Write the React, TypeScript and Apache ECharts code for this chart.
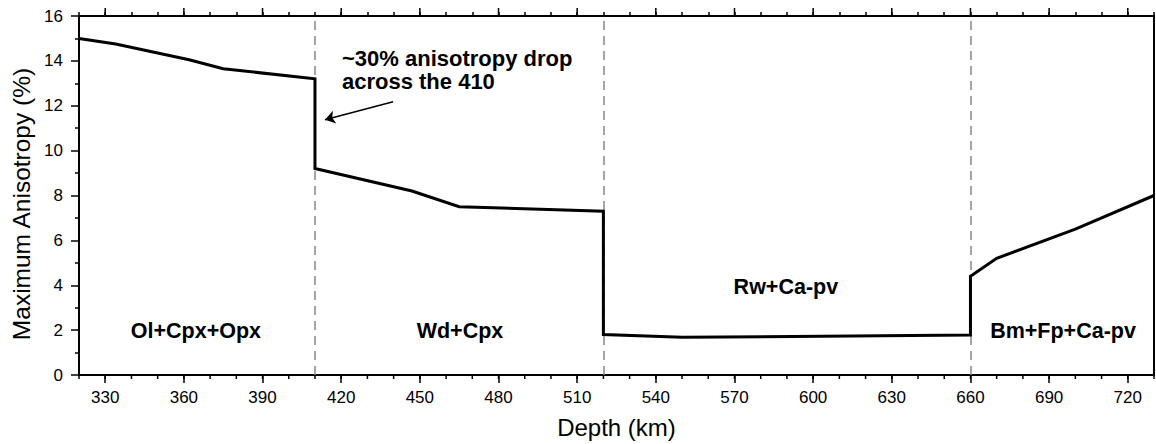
import React, { useEffect, useRef } from "react";
import * as echarts from "echarts";

const depth = [320, 334, 362, 375, 410, 410, 447, 465, 520, 520, 550, 660, 660, 670, 700, 730];
const anisotropy = [15.0, 14.75, 14.05, 13.65, 13.2, 9.2, 8.2, 7.5, 7.3, 1.8, 1.68, 1.78, 4.4, 5.2, 6.5, 8.0];

const boundaries = [410, 520, 660];

const phaseNames = ["Ol+Cpx+Opx", "Wd+Cpx", "Rw+Ca-pv", "Bm+Fp+Ca-pv"];
const phaseX = [364.6, 465.3, 589.6, 695.3];
const phaseY = [1.96, 1.96, 3.9, 1.96];

const majorXTicks = [330, 360, 390, 420, 450, 480, 510, 540, 570, 600, 630, 660, 690, 720];
const minorXTicks = [320, 330, 340, 350, 360, 370, 380, 390, 400, 410, 420, 430, 440, 450, 460, 470, 480, 490, 500, 510, 520, 530, 540, 550, 560, 570, 580, 590, 600, 610, 620, 630, 640, 650, 660, 670, 680, 690, 700, 710, 720, 730];

const annotationText = "~30% anisotropy drop\nacross the 410";
const annotationAt = [420.3, 13.6];
const arrowFrom = [439.8, 12.18];
const arrowTo = [413.8, 11.38];

const Y_MIN = 0;
const Y_MAX = 16;

const FONT = "Liberation Sans, Arial, Helvetica, sans-serif";

export default function App() {
  const ref = useRef<HTMLDivElement>(null);
  useEffect(() => {
    if (!ref.current) return;
    const chart = echarts.init(ref.current, undefined, { renderer: "svg" });
    const tickStyle = { color: "#000", width: 1.5 };
    const option: any = {
      animation: false,
      backgroundColor: "#fff",
      textStyle: { fontFamily: FONT },
      grid: { left: 79, right: 2, top: 16, bottom: 68, containLabel: false },
      xAxis: [
        {
          type: "value",
          min: 320,
          max: 730,
          interval: 10,
          position: "bottom",
          splitLine: { show: false },
          axisLine: { show: true, onZero: false, lineStyle: { color: "#000", width: 2 } },
          axisTick: { show: true, customValues: majorXTicks, length: 8, lineStyle: tickStyle },
          axisLabel: { show: true, customValues: majorXTicks, color: "#000", fontSize: 17, margin: 14, fontFamily: FONT },
          name: "Depth (km)",
          nameLocation: "middle",
          nameGap: 40,
          nameTextStyle: { color: "#000", fontSize: 24, fontFamily: FONT },
        },
        {
          type: "value",
          min: 320,
          max: 730,
          interval: 10,
          position: "top",
          splitLine: { show: false },
          axisLine: { show: true, onZero: false, lineStyle: { color: "#000", width: 2 } },
          axisTick: { show: true, length: 4, lineStyle: tickStyle },
          axisLabel: { show: false },
        },
      ],
      yAxis: [
        {
          type: "value",
          min: Y_MIN,
          max: Y_MAX,
          interval: 2,
          position: "left",
          splitLine: { show: false },
          axisLine: { show: true, onZero: false, lineStyle: { color: "#000", width: 2 } },
          axisTick: { show: true, length: 8, lineStyle: tickStyle },
          minorTick: { show: true, splitNumber: 2, length: 4, lineStyle: tickStyle },
          axisLabel: { color: "#000", fontSize: 17, margin: 16, fontFamily: FONT },
        },
        {
          type: "value",
          min: Y_MIN,
          max: Y_MAX,
          interval: 2,
          position: "right",
          splitLine: { show: false },
          axisLine: { show: true, onZero: false, lineStyle: { color: "#000", width: 2 } },
          axisTick: { show: false },
          axisLabel: { show: false },
        },
      ],
      series: [
        {
          type: "line",
          xAxisIndex: 0,
          yAxisIndex: 0,
          data: depth.map((d, i) => [d, anisotropy[i]]),
          symbol: "none",
          lineStyle: { color: "#000", width: 3, join: "miter" },
          z: 5,
          markLine: {
            silent: true,
            symbol: ["none", "none"],
            label: { show: false },
            lineStyle: { color: "#888", width: 1.5, type: [9, 6] },
            data: boundaries.map((b) => ({ xAxis: b })),
            z: 1,
          },
        },
        {
          type: "scatter",
          xAxisIndex: 0,
          yAxisIndex: 0,
          symbolSize: 0,
          silent: true,
          itemStyle: { opacity: 1 },
          data: phaseNames.map((n, i) => ({ value: [phaseX[i], phaseY[i]], name: n })),
          label: {
            show: true,
            position: "inside",
            formatter: (p: any) => p.name,
            color: "#000",
            opacity: 1,
            fontSize: 21.5,
            fontWeight: "bold",
            fontFamily: FONT,
          },
        },
        {
          type: "scatter",
          xAxisIndex: 0,
          yAxisIndex: 0,
          symbolSize: 0,
          silent: true,
          itemStyle: { opacity: 1 },
          data: [{ value: annotationAt, name: annotationText }],
          label: {
            show: true,
            position: "right",
            distance: 0,
            align: "left",
            verticalAlign: "middle",
            formatter: (p: any) => p.name,
            color: "#000",
            opacity: 1,
            fontSize: 22,
            lineHeight: 23,
            fontWeight: "bold",
            fontFamily: FONT,
          },
          markLine: {
            silent: true,
            label: { show: false },
            symbolSize: 10,
            lineStyle: { color: "#000", width: 1.5, type: "solid" },
            data: [
              [
                { coord: arrowFrom, symbol: "none" },
                { coord: arrowTo, symbol: "arrow" },
              ],
            ],
          },
        },
      ],
    };
    chart.setOption(option);

    // Longer top ticks at labelled depths and bottom minor ticks, placed through the axis scales.
    const finder = { xAxisIndex: 0, yAxisIndex: 0 };
    const tickElems: any[] = [];
    majorXTicks.forEach((v) => {
      const top = chart.convertToPixel(finder, [v, Y_MAX]) as number[];
      tickElems.push({
        type: "line",
        silent: true,
        shape: { x1: top[0], y1: top[1], x2: top[0], y2: top[1] - 8 },
        style: { stroke: "#000", lineWidth: 1.5 },
      });
    });
    minorXTicks.forEach((v) => {
      const bot = chart.convertToPixel(finder, [v, Y_MIN]) as number[];
      tickElems.push({
        type: "line",
        silent: true,
        shape: { x1: bot[0], y1: bot[1], x2: bot[0], y2: bot[1] + 4 },
        style: { stroke: "#000", lineWidth: 1.5 },
      });
    });

    chart.setOption({
      graphic: [
        {
          type: "text",
          x: 21,
          y: 204,
          rotation: Math.PI / 2,
          style: {
            text: "Maximum Anisotropy (%)",
            fill: "#000",
            font: `24.5px ${FONT}`,
            textAlign: "center",
            textVerticalAlign: "middle",
          },
        },
        ...tickElems,
      ],
    });
    return () => chart.dispose();
  }, []);
  return (
    <div
      ref={ref}
      style={{ position: "fixed", left: 0, top: 0, width: 1156, height: 444, background: "#fff" }}
    />
  );
}
